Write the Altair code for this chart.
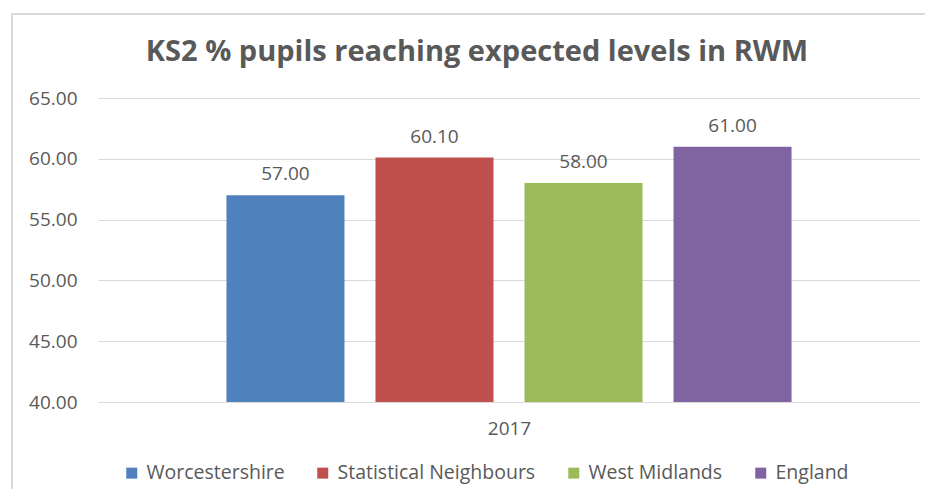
import altair as alt
import pandas as pd

series = ["Worcestershire", "Statistical Neighbours", "West Midlands", "England"]
values = [57.00, 60.10, 58.00, 61.00]
colors = ["#4F81BD", "#C0504D", "#9BBB59", "#8064A2"]
year = "2017"
y_ticks = [40, 45, 50, 55, 60, 65]
title_text = "KS2 % pupils reaching expected levels in RWM"

df = pd.DataFrame({"series": series, "value": values, "year": year})

FONT = "Open Sans"
GREY = "#595959"
FS = 19

base = alt.Chart(df)

x = alt.X(
    "series:N",
    sort=series,
    scale=alt.Scale(paddingInner=0.208, paddingOuter=0.862),
    axis=alt.Axis(
        title=year, labels=False, ticks=False, domain=False,
        titleFontWeight="normal", titleFontSize=FS, titleColor=GREY,
        titlePadding=17, titleFont=FONT,
    ),
)
y = alt.Y(
    "value:Q",
    scale=alt.Scale(domain=[40, 65], zero=False, nice=False),
    axis=alt.Axis(
        values=y_ticks, format=".2f", title=None, domain=False, ticks=False,
        labelPadding=21, gridColor="#d9d9d9", gridWidth=1,
        labelFontSize=FS, labelColor=GREY, labelFont=FONT,
    ),
)

bars = base.mark_bar(clip=True).encode(
    x=x,
    y=y,
    color=alt.Color(
        "series:N",
        sort=series,
        scale=alt.Scale(domain=series, range=colors),
        legend=alt.Legend(
            orient="none", legendX=24, legendY=365, direction="horizontal",
            title=None, symbolType="square", symbolSize=121,
            labelFontSize=19.5, labelColor=GREY, labelFont=FONT, labelLimit=400,
            columnPadding=28, symbolStrokeWidth=0, labelOffset=5,
        ),
    ),
)

labels = base.mark_text(
    dy=-11, baseline="bottom", fontSize=FS, color=GREY, font=FONT
).encode(
    x=alt.X("series:N", sort=series),
    y=alt.Y("value:Q"),
    text=alt.Text("value:Q", format=".2f"),
)

border = alt.Chart(pd.DataFrame({"b": [0]})).mark_rect(
    fillOpacity=0, stroke="#d9d9d9", strokeWidth=2
).encode(
    x=alt.value(-86), x2=alt.value(1000), y=alt.value(-84), y2=alt.value(600)
)

chart = alt.layer(border, bars, labels).properties(
    width=822,
    height=304,
    background="white",
    title=alt.TitleParams(
        title_text, fontSize=29, font=FONT, fontWeight="bold", color=GREY,
        anchor="middle", dx=-32, offset=-54,
    ),
    autosize=alt.AutoSizeParams(type="none"),
    padding={"left": 90, "top": 90, "right": 5, "bottom": 87},
).configure_view(strokeWidth=0, stroke="transparent")

chart.save("out.html", embed_options={"renderer": "svg", "actions": False})
